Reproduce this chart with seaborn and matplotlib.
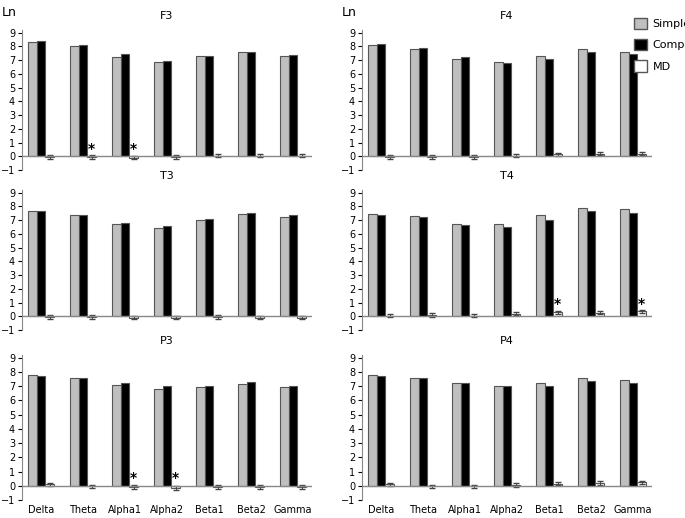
import pandas as pd
import numpy as np
import matplotlib
matplotlib.use("Agg")
import matplotlib.pyplot as plt
import seaborn as sns
from matplotlib.patches import Patch

bands = ["Delta", "Theta", "Alpha1", "Alpha2", "Beta1", "Beta2", "Gamma"]
channels = ["F3", "F4", "T3", "T4", "P3", "P4"]

simple = {
    "F3": [8.3, 8.0, 7.25, 6.85, 7.3, 7.6, 7.3],
    "F4": [8.1, 7.85, 7.1, 6.85, 7.3, 7.85, 7.6],
    "T3": [7.65, 7.35, 6.75, 6.45, 7.0, 7.45, 7.25],
    "T4": [7.45, 7.3, 6.75, 6.7, 7.35, 7.9, 7.8],
    "P3": [7.8, 7.55, 7.1, 6.8, 6.95, 7.15, 6.95],
    "P4": [7.8, 7.55, 7.2, 7.0, 7.25, 7.6, 7.45],
}
complex_ = {
    "F3": [8.4, 8.1, 7.45, 6.95, 7.3, 7.6, 7.35],
    "F4": [8.15, 7.9, 7.2, 6.8, 7.1, 7.6, 7.45],
    "T3": [7.65, 7.35, 6.8, 6.6, 7.1, 7.55, 7.35],
    "T4": [7.4, 7.2, 6.65, 6.5, 7.05, 7.65, 7.5],
    "P3": [7.7, 7.6, 7.25, 7.0, 7.05, 7.3, 7.05],
    "P4": [7.7, 7.6, 7.2, 7.0, 7.05, 7.4, 7.2],
}
md = {
    "F3": [-0.05, -0.05, -0.1, -0.05, 0.05, 0.05, 0.05],
    "F4": [-0.05, -0.05, -0.05, 0.05, 0.15, 0.2, 0.2],
    "T3": [-0.05, -0.05, -0.1, -0.1, -0.05, -0.1, -0.1],
    "T4": [0.05, 0.1, 0.05, 0.2, 0.3, 0.25, 0.35],
    "P3": [0.1, -0.05, -0.1, -0.15, -0.1, -0.1, -0.1],
    "P4": [0.1, -0.05, -0.05, 0.05, 0.15, 0.2, 0.25],
}
md_err = 0.12
stars = {"F3": ["Theta", "Alpha1"], "T4": ["Beta1", "Gamma"], "P3": ["Alpha1", "Alpha2"]}

fig = plt.figure(figsize=(6.85, 5.18), dpi=100)
W, H = 685, 518
lefts = [22, 362]
widths = [290, 290]
bottoms_px = [170, 330, 500]
tops_px = [30, 190, 355]
pal = {"Simple": "#bfbfbf", "Complex": "#000000", "MD": "#ffffff"}

for i, ch in enumerate(channels):
    r, c = divmod(i, 2)
    ax = fig.add_axes([lefts[c] / W, 1 - bottoms_px[r] / H, widths[c] / W, (bottoms_px[r] - tops_px[r]) / H])
    df = pd.DataFrame({
        "band": bands * 3,
        "value": simple[ch] + complex_[ch] + md[ch],
        "cond": ["Simple"] * 7 + ["Complex"] * 7 + ["MD"] * 7,
    })
    sns.barplot(data=df, x="band", y="value", hue="cond", palette=pal, ax=ax,
                width=0.62, gap=0.0, edgecolor="#555555", linewidth=0.8, legend=False, errorbar=None)
    ax.set_xlim(-0.45, 6.45)
    md_bars = ax.patches[14:21]
    for b, v in zip(md_bars, md[ch]):
        x = b.get_x() + b.get_width() / 2
        ax.errorbar(x, v, yerr=md_err, color="#444444", capsize=2.5, lw=0.7)
    for b, band in zip(md_bars, bands):
        if band in stars.get(ch, []):
            x = b.get_x() + b.get_width() / 2
            ax.text(x, 0.05 + max(md[ch][bands.index(band)], 0), "*", ha="center",
                    va="bottom", fontsize=10, fontweight="bold")
    ax.set_ylim(-1, 9.2)
    ax.set_yticks(range(-1, 10))
    ax.tick_params(axis="y", labelsize=7, length=3, pad=2)
    ax.axhline(0, color="#888888", lw=1)
    for s in ["top", "right", "bottom"]:
        ax.spines[s].set_visible(False)
    ax.spines["left"].set_color("#888888")
    ax.set_xlabel("")
    ax.set_ylabel("")
    ax.tick_params(axis="x", length=0, labelsize=7)
    if r < 2:
        ax.set_xticklabels([])
    ax.set_title(ch, fontsize=8, pad=8)
    if r == 0:
        ax.text(-0.07, 1.17, "Ln", transform=ax.transAxes, fontsize=9, va="top")

handles = [Patch(facecolor=pal[k], edgecolor="#555555", label=k) for k in ["Simple", "Complex", "MD"]]
fig.legend(handles=handles, loc="upper left", bbox_to_anchor=(628 / W, 1 - 12 / H),
           frameon=False, fontsize=8, handlelength=1.2, handleheight=1.2, labelspacing=0.9,
           handletextpad=0.5, borderpad=0)
fig.savefig("out.png", dpi=100)
